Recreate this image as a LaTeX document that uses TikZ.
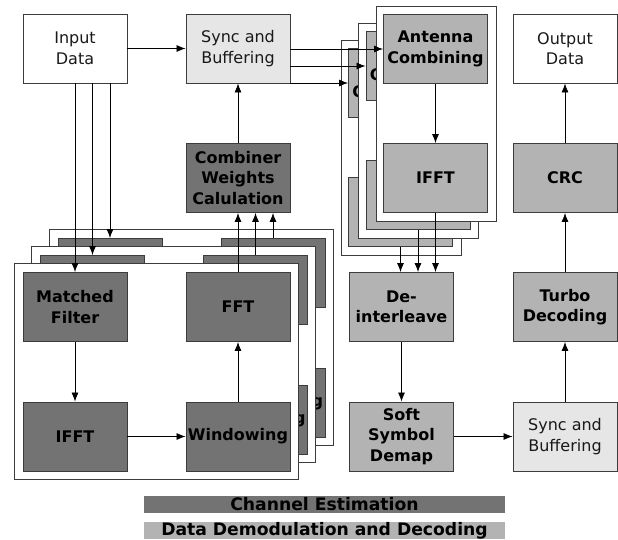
\documentclass[tikz,border=0pt]{standalone}
\usepackage{fontspec}
\setmainfont{DejaVu Sans}
\usetikzlibrary{arrows.meta}

\definecolor{cegray}{RGB}{115,115,115}
\definecolor{ddgray}{RGB}{179,179,179}
\definecolor{sbgray}{RGB}{230,230,230}
\definecolor{edge}{RGB}{60,60,60}

\tikzset{
  blk/.style={draw=edge, line width=0.9pt, minimum width=104pt, minimum height=69pt,
    align=center, inner sep=0pt, font=\fontsize{16}{20.5}\selectfont, text=black!90},
  cebox/.style={blk, fill=cegray, font=\fontsize{16}{20.5}\selectfont\bfseries, text=black},
  ddbox/.style={blk, fill=ddgray, font=\fontsize{16}{20.5}\selectfont\bfseries, text=black},
  sbbox/.style={blk, fill=sbgray},
  iobox/.style={blk, fill=white},
  plane/.style={draw=edge, fill=white, line width=0.9pt},
  arr/.style={-{Latex[length=9pt,width=7pt]}, line width=0.8pt, draw=black},
  legend/.style={minimum width=361pt, minimum height=17pt, inner sep=0pt,
    font=\fontsize{17.2}{20}\selectfont\bfseries}
}

\begin{document}
\begin{tikzpicture}[x=1pt,y=-1pt]
\useasboundingbox (0,0) rectangle (618,540);

% channel estimation planes, back to front
\foreach \i/\dx/\dy in {3/35/-34, 2/17.5/-17, 1/0/0}{
  \begin{scope}[shift={(\dx,\dy)}]
    \filldraw[plane] (14,263) rectangle (298,479);
    \node[cebox] (mf\i)  at (75,307)    {Matched\\Filter};
    \node[cebox] (fft\i) at (238,307)   {FFT};
    \node[cebox] (cif\i) at (75,436.5)  {IFFT};
    \node[cebox] (win\i) at (238,436.5) {Windowing};
  \end{scope}
}

% data demodulation planes, back to front
\foreach \i/\dx/\dy in {3/-35/34, 2/-17.5/17, 1/0/0}{
  \begin{scope}[shift={(\dx,\dy)}]
    \filldraw[plane] (376,6) rectangle (496,221);
    \node[ddbox] (ac\i)  at (435.5,49)  {Antenna\\Combining};
    \node[ddbox] (dif\i) at (435.5,178) {IFFT};
  \end{scope}
}

% remaining blocks
\node[iobox] (in)    at (75,48.5)    {Input\\Data};
\node[sbbox] (sync)  at (238,48.5)   {Sync and\\Buffering};
\node[cebox] (comb)  at (238,178)    {Combiner\\Weights\\Calulation};
\node[ddbox] (dei)   at (401.5,307)  {De-\\interleave};
\node[ddbox] (soft)  at (401.5,436.5){Soft\\Symbol\\Demap};
\node[sbbox] (sync2) at (565,436.5)  {Sync and\\Buffering};
\node[ddbox] (turbo) at (565,307)    {Turbo\\Decoding};
\node[ddbox] (crc)   at (565,178)    {CRC};
\node[iobox] (out)   at (565,48.5)   {Output\\Data};

% connectors
\draw[arr] (in) -- (sync);
\draw[arr] (comb) -- (sync);
\foreach \i in {1,2,3}{
  \draw[arr] (in.south -| mf\i.north) -- (mf\i.north);
  \draw[arr] (fft\i.north) -- (comb.south -| fft\i.north);
  \draw[arr] (sync.east |- ac\i.west) -- (ac\i.west);
  \draw[arr] (dif\i.south) -- (dei.north -| dif\i.south);
}
\draw[arr] (mf1) -- (cif1);
\draw[arr] (cif1) -- (win1);
\draw[arr] (win1) -- (fft1);
\draw[arr] (ac1) -- (dif1);
\draw[arr] (dei) -- (soft);
\draw[arr] (soft) -- (sync2);
\draw[arr] (sync2) -- (turbo);
\draw[arr] (turbo) -- (crc);
\draw[arr] (crc) -- (out);

% legend
\node[legend, fill=cegray] (lce) at (324.5,504.5) {Channel Estimation};
\node[legend, fill=ddgray] (ldd) at (324.5,530.5) {Data Demodulation and Decoding};
\end{tikzpicture}
\end{document}
